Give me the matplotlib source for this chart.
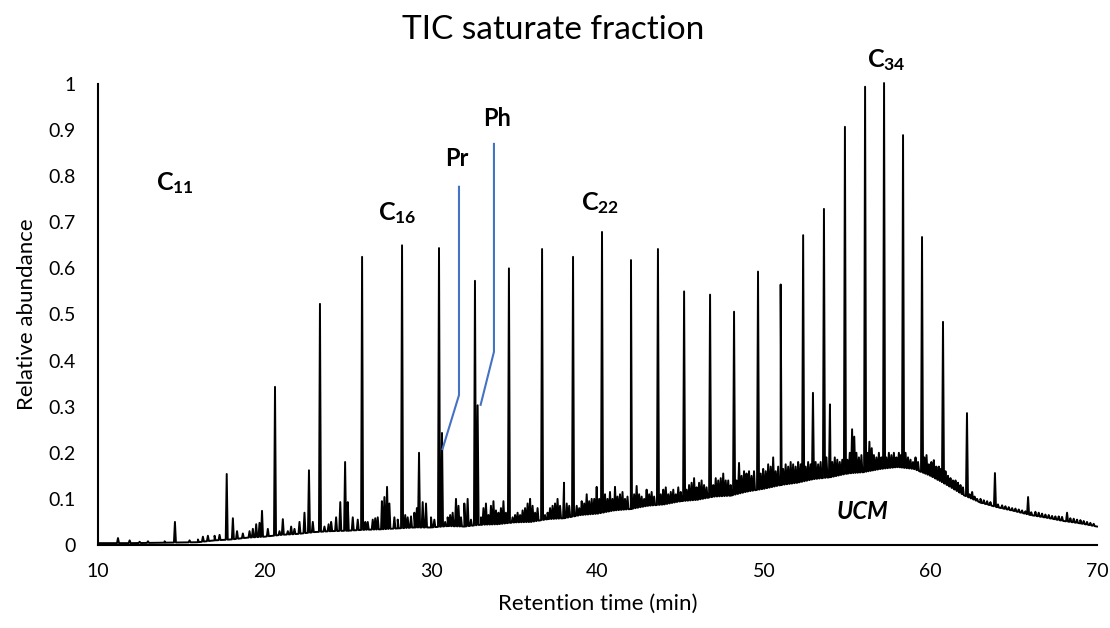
import numpy as np
import matplotlib.pyplot as plt

plt.rcParams['font.family'] = ['Lato', 'DejaVu Sans']
plt.rcParams['mathtext.fontset'] = 'custom'
plt.rcParams['mathtext.rm'] = 'Lato'
plt.rcParams['mathtext.bf'] = 'Lato:bold'

# UCM hump (lower envelope of the trace)
base_rt = [10, 12, 14, 16, 17, 18, 19, 20, 21, 22, 23, 24, 25, 26, 27, 28, 29, 30, 31,
           32, 33, 34, 35, 36, 37, 38, 39, 40, 41, 42, 43, 44, 45, 46, 47, 48, 49, 50,
           51, 52, 53, 54, 55, 56, 57, 58, 59, 60, 61, 62, 63, 64, 65, 66, 67, 68, 69, 70]
base_y = [0.004, 0.004, 0.005, 0.006, 0.010, 0.012, 0.016, 0.018, 0.022, 0.024, 0.028,
          0.030, 0.031, 0.033, 0.034, 0.036, 0.038, 0.038, 0.041, 0.040, 0.044, 0.045,
          0.049, 0.050, 0.056, 0.058, 0.065, 0.068, 0.075, 0.078, 0.085, 0.088, 0.095,
          0.098, 0.105, 0.107, 0.116, 0.122, 0.130, 0.135, 0.143, 0.147, 0.155, 0.158,
          0.165, 0.169, 0.165, 0.150, 0.130, 0.108, 0.092, 0.082, 0.074, 0.065, 0.059,
          0.052, 0.047, 0.040]

# n-alkane peaks C11 .. C41
alkane_rt = [14.62, 17.73, 20.63, 23.33, 25.86, 28.26, 30.48, 32.64, 34.68, 36.67,
             38.53, 40.27, 42.01, 43.63, 45.20, 46.76, 48.20, 49.64, 51.00, 52.35,
             53.60, 54.86, 56.07, 57.21, 58.35, 59.49, 60.75, 62.19, 63.87, 65.86, 68.20]
alkane_h = [0.050, 0.154, 0.343, 0.523, 0.625, 0.650, 0.644, 0.573, 0.600, 0.642,
            0.625, 0.679, 0.618, 0.642, 0.550, 0.543, 0.506, 0.593, 0.565, 0.672,
            0.729, 0.907, 0.994, 1.002, 0.889, 0.668, 0.484, 0.286, 0.156, 0.104, 0.070]

# pristane / phytane
isoprenoid_rt = [30.66, 32.80]
isoprenoid_h = [0.243, 0.303]

# smaller peaks, 10-30 min
minor_rt_a = [11.2, 11.9, 12.5, 13.0, 14.0, 15.5, 16.0, 16.3, 16.6, 17.0, 17.3, 18.1,
              18.35, 18.7, 19.1, 19.3, 19.5, 19.7, 19.85, 20.2, 20.9, 21.1, 21.4, 21.6,
              21.8, 22.1, 22.4, 22.67, 22.9, 23.6, 23.85, 24.0, 24.3, 24.55, 24.84, 25.0,
              25.3, 25.6, 26.05, 26.2, 26.5, 26.65, 26.8, 27.05, 27.2, 27.36, 27.5, 27.8,
              28.0, 28.45, 28.6, 28.8, 29.0, 29.15, 29.28, 29.5, 29.7, 30.0]
minor_h_a = [0.015, 0.010, 0.007, 0.008, 0.008, 0.010, 0.012, 0.018, 0.020, 0.020, 0.022, 0.058,
             0.030, 0.025, 0.030, 0.035, 0.045, 0.048, 0.074, 0.035, 0.030, 0.056, 0.030, 0.040,
             0.035, 0.050, 0.070, 0.162, 0.050, 0.040, 0.045, 0.050, 0.060, 0.093, 0.180, 0.093,
             0.060, 0.055, 0.050, 0.050, 0.055, 0.058, 0.060, 0.095, 0.104, 0.126, 0.090, 0.060,
             0.055, 0.065, 0.060, 0.062, 0.070, 0.080, 0.200, 0.093, 0.090, 0.060]

# smaller peaks, 30-45 min
minor_rt_b = [30.2, 30.85, 31.0, 31.15, 31.3, 31.5, 31.65, 31.8, 32.0, 32.2, 32.4, 33.0,
              33.15, 33.3, 33.45, 33.6, 33.75, 33.9, 34.05, 34.2, 34.35, 34.5, 34.9, 35.05,
              35.2, 35.35, 35.5, 35.65, 35.8, 35.95, 36.1, 36.25, 36.4, 36.85, 37.0, 37.15,
              37.3, 37.45, 37.6, 37.75, 37.99, 38.15, 38.3, 38.75, 38.9, 39.05, 39.2, 39.35,
              39.5, 39.65, 39.8, 39.95, 40.1, 40.45, 40.6, 40.75, 40.9, 41.05, 41.2, 41.35,
              41.5, 41.65, 41.8, 42.2, 42.35, 42.5, 42.65, 42.8, 42.95, 43.1, 43.25, 43.4,
              43.8, 43.95, 44.1, 44.25, 44.4, 44.55, 44.7, 44.85, 45.0]
minor_h_b = [0.055, 0.050, 0.060, 0.065, 0.070, 0.100, 0.085, 0.060, 0.090, 0.100, 0.055, 0.060,
             0.080, 0.090, 0.065, 0.085, 0.095, 0.075, 0.070, 0.080, 0.095, 0.070, 0.060, 0.065,
             0.070, 0.065, 0.075, 0.080, 0.090, 0.100, 0.085, 0.070, 0.080, 0.065, 0.070, 0.080,
             0.085, 0.090, 0.100, 0.085, 0.135, 0.090, 0.085, 0.085, 0.080, 0.095, 0.090, 0.110,
             0.095, 0.100, 0.100, 0.126, 0.100, 0.110, 0.100, 0.115, 0.100, 0.126, 0.105, 0.110,
             0.115, 0.100, 0.105, 0.110, 0.128, 0.110, 0.105, 0.100, 0.120, 0.110, 0.115, 0.105,
             0.110, 0.120, 0.125, 0.110, 0.115, 0.120, 0.110, 0.125, 0.115]

# smaller peaks, 45-62 min
minor_rt_c = [45.35, 45.5, 45.65, 45.8, 45.95, 46.1, 46.25, 46.4, 46.55, 46.95, 47.1, 47.25,
              47.4, 47.55, 47.7, 47.85, 48.0, 48.35, 48.5, 48.65, 48.8, 48.95, 49.1, 49.25,
              49.4, 49.8, 49.95, 50.1, 50.25, 50.4, 50.55, 50.7, 50.85, 51.15, 51.3, 51.45,
              51.6, 51.75, 51.9, 52.05, 52.2, 52.5, 52.65, 52.8, 52.94, 53.1, 53.25, 53.4,
              53.75, 53.96, 54.1, 54.25, 54.4, 54.55, 54.7, 55.0, 55.15, 55.29, 55.42, 55.55,
              55.7, 55.85, 56.2, 56.33, 56.47, 56.6, 56.75, 56.9, 57.05, 57.35, 57.5, 57.65,
              57.8, 57.95, 58.1, 58.22, 58.5, 58.65, 58.8, 58.95, 59.1, 59.25, 59.63, 59.76,
              59.9, 60.05, 60.2, 60.35, 60.5, 60.62, 60.9, 61.05, 61.2, 61.35, 61.5, 61.65,
              61.8, 61.95]
minor_h_c = [0.120, 0.130, 0.135, 0.145, 0.125, 0.135, 0.140, 0.130, 0.125, 0.130, 0.145, 0.140,
             0.145, 0.155, 0.140, 0.140, 0.130, 0.140, 0.178, 0.150, 0.160, 0.155, 0.160, 0.150,
             0.160, 0.155, 0.165, 0.160, 0.175, 0.170, 0.190, 0.160, 0.170, 0.165, 0.175, 0.170,
             0.180, 0.175, 0.170, 0.180, 0.175, 0.170, 0.180, 0.175, 0.330, 0.180, 0.175, 0.180,
             0.190, 0.305, 0.180, 0.190, 0.185, 0.180, 0.185, 0.185, 0.200, 0.251, 0.235, 0.200,
             0.190, 0.195, 0.200, 0.224, 0.210, 0.195, 0.190, 0.200, 0.190, 0.190, 0.200, 0.195,
             0.200, 0.190, 0.200, 0.195, 0.200, 0.190, 0.185, 0.180, 0.190, 0.180, 0.190, 0.195,
             0.175, 0.180, 0.184, 0.170, 0.170, 0.165, 0.160, 0.150, 0.145, 0.140, 0.140, 0.135,
             0.130, 0.125]

# smaller peaks, 62-70 min
minor_rt_d = [62.35, 62.5, 62.65, 62.8, 63.0, 63.2, 63.4, 63.6, 64.05, 64.3, 64.5, 64.7,
              64.9, 65.1, 65.3, 65.5, 65.7, 66.05, 66.3, 66.5, 66.7, 66.9, 67.1, 67.3,
              67.5, 67.7, 67.9, 68.4, 68.6, 68.8, 69.0, 69.2, 69.4, 69.6, 69.8]
minor_h_d = [0.110, 0.115, 0.105, 0.100, 0.100, 0.097, 0.095, 0.093, 0.088, 0.086, 0.084, 0.082,
             0.080, 0.079, 0.077, 0.075, 0.073, 0.071, 0.072, 0.070, 0.068, 0.066, 0.065, 0.063,
             0.062, 0.062, 0.061, 0.058, 0.057, 0.055, 0.054, 0.052, 0.050, 0.048, 0.046]

# pointer lines for Pr and Ph
pr_line_x = [30.69, 31.68, 31.68]
pr_line_y = [0.208, 0.325, 0.777]
ph_line_x = [32.98, 33.78, 33.78]
ph_line_y = [0.304, 0.419, 0.870]

# build the trace: baseline knots plus a narrow spike for each peak
peak_rt = np.array(alkane_rt + isoprenoid_rt + minor_rt_a + minor_rt_b + minor_rt_c + minor_rt_d)
peak_h = np.array(alkane_h + isoprenoid_h + minor_h_a + minor_h_b + minor_h_c + minor_h_d)
w = 0.06
px = list(base_rt)
py = list(base_y)
for t, h in zip(peak_rt, peak_h):
    for dt, val in [(-w, None), (0, h), (w, None)]:
        px.append(t + dt)
        py.append(np.interp(t + dt, base_rt, base_y) if val is None else val)
order = np.argsort(px, kind='stable')
px = np.array(px)[order]
py = np.array(py)[order]

fig = plt.figure(figsize=(11.1, 6.28), dpi=100)
ax = fig.add_axes([0.0883, 0.1322, 0.9, 0.7341])
ax.plot(px, py, color='black', lw=1.4, clip_on=False)
ax.plot(pr_line_x, pr_line_y, color='#4472C4', lw=1.5)
ax.plot(ph_line_x, ph_line_y, color='#4472C4', lw=1.5)

ax.set_xlim(10, 70)
ax.set_ylim(0, 1)
ax.set_xticks(range(10, 71, 10))
ax.set_yticks(np.arange(0, 1.01, 0.1))
ax.set_yticklabels(['0', '0.1', '0.2', '0.3', '0.4', '0.5', '0.6', '0.7', '0.8', '0.9', '1'])
ax.tick_params(length=0, labelsize=14, colors='black')
ax.tick_params(axis='y', pad=16)
ax.tick_params(axis='x', pad=13)
for s in ['top', 'right']:
    ax.spines[s].set_visible(False)
ax.spines['left'].set_linewidth(1.5)
ax.spines['bottom'].set_linewidth(1.5)

fig.text(0.498, 0.952, 'TIC saturate fraction', fontsize=24, ha='center', va='center')
ax.set_xlabel('Retention time (min)', fontsize=16, labelpad=10)
ax.set_ylabel('Relative abundance', fontsize=16, labelpad=8)

lab = dict(fontsize=18, ha='center', va='center', fontweight='bold')
ax.text(14.62, 0.785, r'$\mathbf{C_{11}}$', **lab)
ax.text(27.96, 0.72, r'$\mathbf{C_{16}}$', **lab)
ax.text(40.15, 0.742, r'$\mathbf{C_{22}}$', **lab)
ax.text(57.33, 1.052, r'$\mathbf{C_{34}}$', **lab)
ax.text(31.56, 0.839, 'Pr', fontsize=17, ha='center', va='center', fontweight='bold')
ax.text(33.96, 0.926, 'Ph', fontsize=17, ha='center', va='center', fontweight='bold')
ax.text(55.9, 0.072, 'UCM', fontsize=17, ha='center', va='center', fontweight='bold',
        style='italic')

fig.savefig('out.png', dpi=100)
